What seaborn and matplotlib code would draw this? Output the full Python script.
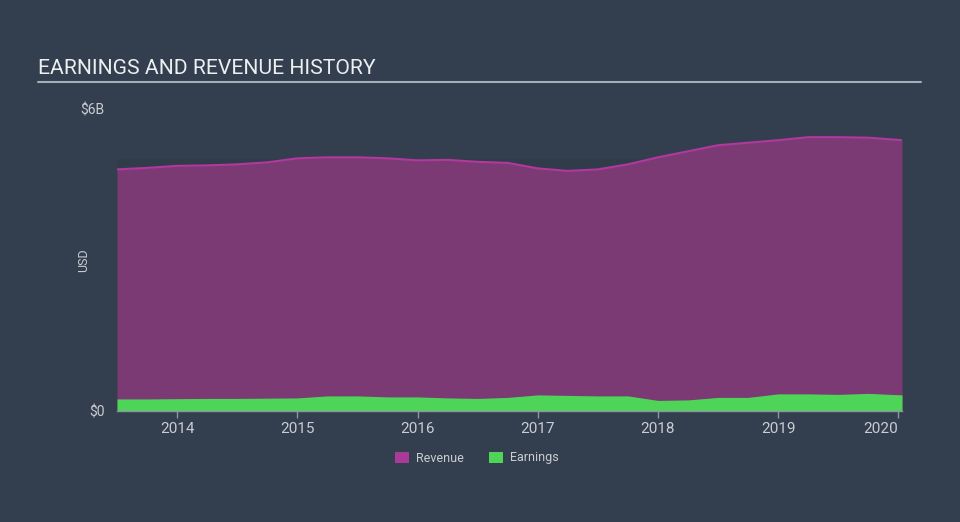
import matplotlib
matplotlib.use("Agg")
import matplotlib.pyplot as plt
import seaborn as sns
import pandas as pd
import numpy as np

# Data (fractional years, values in $B)
years = [2013.5, 2013.75, 2014.0, 2014.25, 2014.5, 2014.75, 2015.0, 2015.25, 2015.5,
         2015.75, 2016.0, 2016.25, 2016.5, 2016.75, 2017.0, 2017.25, 2017.5, 2017.75,
         2018.0, 2018.25, 2018.5, 2018.75, 2019.0, 2019.25, 2019.5, 2019.75, 2020.03]
revenue = [4.80, 4.83, 4.87, 4.88, 4.90, 4.94, 5.02, 5.04, 5.04, 5.02, 4.98, 4.99, 4.95,
           4.93, 4.82, 4.77, 4.80, 4.90, 5.04, 5.16, 5.28, 5.33, 5.38, 5.44, 5.44, 5.43, 5.38]
earnings = [0.24, 0.24, 0.245, 0.25, 0.25, 0.255, 0.26, 0.30, 0.30, 0.28, 0.28, 0.26, 0.25,
            0.27, 0.32, 0.31, 0.30, 0.30, 0.21, 0.22, 0.27, 0.27, 0.34, 0.34, 0.33, 0.35, 0.32]
xticks = [2014, 2015, 2016, 2017, 2018, 2019, 2020]
xticklabels = ["2014", "2015", "2016", "2017", "2018", "2019", "2020"]
yticks = [0, 6]
yticklabels = ["$0", "$6B"]

df = pd.DataFrame({"year": years, "Revenue": revenue, "Earnings": earnings})

BG = "#333f4e"
REV_FILL = "#7b3a74"
REV_LINE = "#b2389f"
EARN = "#4ed558"
TXT = "#c9cdd2"

sns.set_theme(style="dark")
plt.rcParams["font.family"] = ["Roboto", "DejaVu Sans"]

fig = plt.figure(figsize=(9.6, 5.22), dpi=100)
fig.patch.set_facecolor(BG)
ax = fig.add_axes([117/960, 1 - 411/522, (902 - 117)/960, (411 - 109)/522])
ax.set_facecolor(BG)

# subtle darker plotting band
ax.axhspan(0, 5.0, color="#313c4a", zorder=0, lw=0)

ax.fill_between(df["year"], 0, df["Revenue"], color=REV_FILL, lw=0, zorder=1)
sns.lineplot(data=df, x="year", y="Revenue", ax=ax, color=REV_LINE, lw=1.5, zorder=2)
ax.fill_between(df["year"], 0, df["Earnings"], color=EARN, lw=0, zorder=3)

ax.set_xlim(2013.5, 2020.03)
ax.set_ylim(0, 6)
ax.set_xticks(xticks)
ax.set_xticklabels(xticklabels, color=TXT, fontsize=11)
ax.get_xticklabels()[-1].set_ha("right")
ax.get_xticklabels()[-1].set_x(2020.03)
ax.set_yticks(yticks)
ax.set_yticklabels(yticklabels, color=TXT, fontsize=10)
ax.tick_params(axis="x", length=5, width=1, color="#8c96a3", pad=3, direction="out", bottom=True)
ax.tick_params(axis="y", length=0, pad=9)
ax.set_xlabel("")
ax.set_ylabel("")
ax.grid(False)
for s in ["top", "right", "left"]:
    ax.spines[s].set_visible(False)
ax.spines["bottom"].set_color("#8c96a3")
ax.spines["bottom"].set_linewidth(1)
ax.spines["bottom"].set_zorder(5)

fig.text(84/960, 1 - 260/522, "USD", color=TXT, fontsize=9, rotation=90,
         ha="center", va="center")

# Title and underline
fig.text(38/960, 1 - 68/522, "EARNINGS AND REVENUE HISTORY", color="#eceff1",
         fontsize=15.2, va="center", ha="left")
fig.add_artist(plt.Line2D([38/960, 921/960], [1 - 81.5/522, 1 - 81.5/522],
                          color="#a5adb6", lw=1.5, transform=fig.transFigure))

# Legend
from matplotlib.patches import Patch
handles = [Patch(facecolor="#a83a98", edgecolor="none", label="Revenue"),
           Patch(facecolor=EARN, edgecolor="none", label="Earnings")]
leg = fig.legend(handles=handles, loc="center", bbox_to_anchor=(477/960, 1 - 458/522),
                 ncol=2, frameon=False, fontsize=9, handlelength=1.1, handleheight=1.0,
                 columnspacing=2.0, handletextpad=0.6)
for t in leg.get_texts():
    t.set_color(TXT)

fig.savefig("out.png", dpi=100, facecolor=BG)
